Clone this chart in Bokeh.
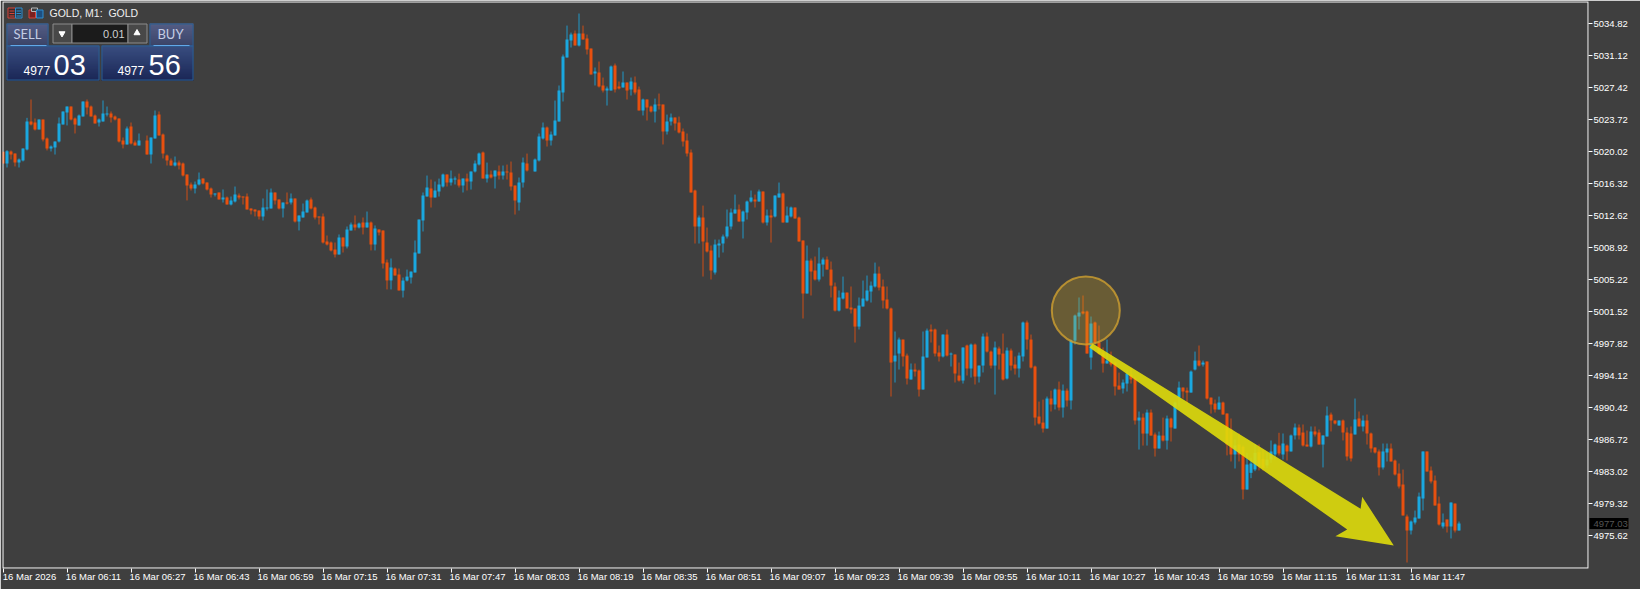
import numpy as np
from bokeh.plotting import figure
from bokeh.models import ColumnDataSource, FixedTicker, Label, LinearAxis, NumeralTickFormatter
from bokeh.embed import file_html
from bokeh.resources import INLINE

nan = float("nan")

opens = [
5020.01,5018.66,5020.05,5019.82,5018.78,5019.01,5020.28,5023.52,5023.40,5022.60,
5023.75,5021.55,5020.40,5020.51,5021.21,5023.17,5024.56,5025.25,5023.87,5023.06,
5024.10,5025.83,5025.25,5024.21,5023.40,5023.52,5024.33,5024.45,5024.10,5023.87,
5021.32,5020.86,5022.94,5021.09,5020.75,nan,5021.32,5019.70,5021.55,5024.33,
5022.02,5019.59,5019.01,5018.43,5018.78,5018.66,5017.39,5016.24,5015.77,5016.24,
5016.93,5016.47,5015.77,5015.08,5015.31,5014.50,5014.73,5013.92,5014.27,5014.96,
5014.85,5014.85,5013.46,5013.35,5013.23,5012.54,5013.46,5013.46,5015.31,5014.50,
5013.46,5014.15,5014.15,5014.62,5011.96,5012.42,5013.00,5014.50,5013.58,5012.54,
5012.54,5009.65,5009.53,5008.72,5008.14,5010.11,5009.07,5010.92,5011.61,5011.26,
5011.84,5011.26,5011.84,5009.30,5011.03,5010.92,5007.22,5005.14,5006.52,5005.83,
5003.97,5005.13,5005.48,5006.06,5008.25,5012.07,5014.84,5015.77,5014.73,5015.42,
5016.00,5017.39,5016.46,5016.81,5016.81,5016.11,5016.92,5016.58,5017.73,5018.54,
5019.93,5016.92,5017.39,5017.16,5017.73,5017.27,5017.73,5017.62,5016.11,5014.15,
5016.46,5018.66,nan,5017.73,5019.01,5021.55,5022.82,5021.32,5021.90,5023.51,
5026.87,5030.91,5032.88,5033.69,5032.30,5033.69,5033.11,5031.95,5029.06,5029.18,
5027.68,5027.10,5027.10,5029.99,5027.56,5027.45,5028.02,5027.21,5028.02,5027.21,
5024.79,5026.06,5025.25,5024.67,5025.48,5025.48,5022.36,5023.51,5023.98,5023.40,
5022.36,5021.32,5019.93,5015.54,5011.37,5012.42,5009.52,5008.60,5006.06,5009.18,
5009.41,5010.22,5011.37,5012.88,5013.34,5011.95,5012.99,5014.26,5014.50,5014.26,
5015.42,5011.84,5012.65,5012.53,5014.73,5015.19,5011.84,5012.53,5013.57,5012.42,
5009.76,5003.63,5007.44,5006.29,5005.25,5006.98,5007.56,5006.40,5004.44,5001.66,
5003.05,5003.74,5002.01,5001.90,4999.81,5002.13,5002.82,5003.86,5004.44,5005.94,
5004.44,5002.94,5001.90,4995.77,4996.69,4998.31,4996.46,4993.69,4994.84,4994.73,
4992.53,4996.23,4999.47,4999.47,4996.81,4996.35,4998.89,4996.58,4996.58,4994.15,
4993.57,4997.62,4994.96,4997.73,4994.03,4995.30,4998.66,4996.92,4995.30,4997.27,
4996.69,4993.80,4997.04,4995.42,4994.96,4996.35,5000.28,4998.31,4995.19,4989.41,
4988.71,4988.02,4991.49,4990.80,4992.53,4990.45,4992.41,4991.26,
4998.19,5000.97,5001.55,5001.55,
4996.23,5000.28,4997.96,4996.81,4995.54,4995.77,4995.65,4992.99,
4992.65,4993.22,4994.26,4993.80,4988.95,4989.29,4987.44,4989.87,4987.33,4985.71,
4987.21,4986.63,4989.18,4988.02,4991.60,4992.76,4992.41,4992.18,4994.84,4995.88,
4995.42,4995.77,4991.60,4990.91,4990.22,4991.03,4989.76,4987.91,4985.02,4986.18,
4985.91,4980.97,4982.90,4983.29,4985.29,4984.52,4983.75,4984.44,4985.02,4986.06,
4985.02,4986.06,4985.37,4987.22,4988.14,4987.56,4986.17,4985.94,4987.68,4987.56,
4986.17,4987.10,4989.64,4988.95,4988.37,4988.95,4987.56,4987.45,4987.33,4989.18,
4988.26,4988.95,4987.45,4985.83,4985.37,4983.52,4985.25,4985.71,4984.32,4982.82,
4981.55,4977.85,4976.23,4977.16,4977.62,4979.93,4985.37,4983.17,4982.01,4979.35,
4976.69,4977.50,4976.69,4979.35,4976.23]

highs = [
5020.01,5020.21,5020.17,5019.82,5019.24,5020.40,5023.94,5026.06,5023.87,5023.75,
5023.75,5021.67,5020.75,5021.21,5023.98,5024.68,5025.25,5025.25,5023.98,5024.33,
5025.83,5026.06,5025.37,5024.33,5023.87,5025.95,5025.25,5024.68,5024.21,5023.87,
5021.67,5022.94,5023.40,5021.32,5022.13,nan,5021.90,5021.67,5024.79,5024.68,
5022.13,5019.70,5019.24,5019.47,5019.01,5018.78,5017.39,5016.47,5016.58,5017.62,
5016.93,5016.47,5015.89,5015.20,5015.31,5015.66,5014.85,5014.85,5016.00,5015.20,
5014.85,5015.20,5013.46,5013.35,5013.23,5014.62,5015.66,5015.77,5015.31,5014.50,
5014.15,5015.31,5015.20,5014.62,5012.65,5014.04,5014.50,5014.73,5013.69,5012.54,
5012.88,5010.34,5009.65,5009.53,5010.46,5010.11,5011.38,5011.84,5012.65,5011.84,
5012.42,5013.11,5011.96,5011.50,5011.03,5010.92,5007.56,5007.68,5006.64,5006.52,
5005.48,5006.40,5006.17,5009.76,5012.18,5015.31,5017.27,5016.81,5016.58,5016.92,
5017.50,5017.39,5017.85,5017.16,5017.50,5016.92,5017.50,5017.73,5019.01,5019.93,
5020.05,5018.77,5017.85,5017.85,5018.43,5018.43,5018.54,5018.89,5016.11,5017.04,
5019.35,5019.81,nan,5019.24,5022.13,5023.40,5022.94,5022.36,5025.94,5027.68,
5031.26,5034.61,5033.80,5034.04,5036.00,5034.61,5033.57,5031.95,5029.76,5030.45,
5028.60,5027.56,5029.99,5030.22,5028.14,5029.30,5028.02,5028.60,5028.72,5027.56,
5026.17,5026.06,5025.36,5026.17,5026.75,5025.48,5024.32,5024.44,5023.98,5024.09,
5022.71,5022.13,5020.28,5015.65,5012.65,5013.80,5011.26,5009.18,5009.87,5009.87,
5010.45,5013.34,5013.46,5015.07,5013.92,5013.22,5014.38,5015.54,5015.07,5015.65,
5015.42,5013.34,5013.34,5014.96,5016.46,5015.31,5013.69,5013.69,5013.57,5012.53,
5009.76,5009.18,5007.68,5007.91,5008.95,5007.79,5007.91,5007.33,5004.90,5003.98,
5005.59,5003.74,5004.44,5001.90,5003.17,5005.13,5005.71,5005.02,5007.21,5006.75,
5005.25,5004.44,5002.01,4999.24,4998.54,4998.31,4996.69,4995.54,4995.54,4994.84,
4999.24,4999.58,5000.05,4999.58,4997.62,4998.89,4999.47,4996.81,4996.58,4995.65,
4997.39,4997.73,4997.85,4997.85,4995.30,4999.00,4999.12,4997.04,4998.08,4997.50,
4999.00,4997.39,4997.27,4996.35,4996.81,5000.39,5000.51,4998.89,4995.30,4991.14,
4991.37,4991.72,4992.41,4992.65,4993.45,4993.11,4992.65,4998.31,
5001.20,5003.17,5003.40,5001.66,
5000.97,5000.39,4999.93,4997.39,4998.31,4996.92,4995.77,4994.49,
4993.69,4994.73,4995.07,4994.03,4989.99,4989.75,4990.22,4990.22,4987.56,4987.67,
4989.29,4989.52,4989.29,4991.14,4993.45,4992.76,4992.76,4994.73,4996.92,4997.62,
4995.88,4995.77,4991.60,4991.37,4991.72,4991.14,4989.76,4989.18,4986.76,4987.45,
4986.06,4985.21,4984.64,4986.18,4986.18,4985.60,4985.21,4986.64,4986.29,4987.53,
4987.45,4986.17,4987.33,4988.60,4988.49,4988.49,4987.79,4988.26,4988.26,4987.91,
4987.22,4990.57,4989.87,4988.95,4988.95,4989.07,4988.14,4988.26,4991.49,4989.99,
4989.53,4989.64,4987.56,4985.83,4985.60,4986.29,4986.29,4986.29,4984.44,4983.98,
4983.28,4978.08,4977.39,4978.54,4980.62,4985.37,4985.37,4983.63,4982.59,4980.16,
4978.20,4977.50,4979.47,4979.35,4977.27]

lows = [
5018.66,5018.20,5019.13,5018.32,5018.20,5018.90,5020.17,5023.06,5022.48,5022.60,
5021.21,5020.17,5020.05,5019.70,5021.09,5023.17,5023.06,5023.64,5022.13,5023.06,
5024.10,5024.33,5024.10,5023.29,5022.94,5023.52,5024.10,5023.40,5023.64,5021.09,
5020.40,5020.86,5020.86,5020.75,5020.75,nan,5019.70,5018.66,5021.55,5021.90,
5019.24,5018.43,5018.43,5018.32,5017.97,5017.16,5014.39,5015.54,5015.20,5016.12,
5016.24,5015.54,5014.73,5014.85,5014.50,5014.15,5013.92,5013.81,5014.15,5014.50,
5013.92,5013.35,5012.77,5012.54,5012.19,5012.07,5013.23,5013.46,5013.92,5013.35,
5012.42,5013.92,5013.92,5011.84,5010.92,5012.42,5013.00,5013.35,5012.19,5011.61,
5009.41,5009.18,5008.49,5007.80,5008.14,5008.37,5008.84,5010.92,5010.92,5011.15,
5010.46,5011.26,5008.61,5008.61,5010.34,5006.52,5004.10,5004.10,5005.71,5003.98,
5003.17,5005.02,5004.78,5006.06,5008.25,5010.80,5014.84,5013.57,5014.73,5014.84,
5015.88,5016.00,5016.11,5016.23,5015.88,5015.31,5015.54,5015.65,5017.62,5018.43,
5016.92,5016.46,5016.92,5015.77,5016.81,5016.81,5016.81,5015.54,5012.76,5013.22,
5015.88,5017.73,nan,5017.73,5018.89,5021.43,5020.62,5020.74,5021.90,5023.51,
5025.83,5030.91,5032.07,5032.30,5032.19,5033.00,5031.26,5028.95,5027.68,5027.45,
5026.87,5025.36,5027.10,5026.87,5027.21,5027.45,5026.06,5026.52,5026.64,5024.79,
5024.21,5023.63,5024.55,5023.40,5024.90,5020.86,5022.01,5023.05,5022.47,5022.13,
5020.62,5019.47,5015.31,5009.41,5009.41,5005.59,5008.37,5005.25,5005.82,5007.79,
5008.37,5009.99,5011.03,5012.88,5011.95,5009.99,5012.18,5014.15,5013.57,5014.26,
5011.72,5011.49,5009.52,5012.42,5014.73,5011.84,5011.84,5012.42,5012.30,5009.64,
5000.74,5003.63,5003.40,5005.13,5005.02,5005.59,5006.40,5003.17,5001.55,5001.55,
5002.94,5001.90,5001.32,4997.96,4999.47,5002.13,5002.70,5002.59,5004.32,5003.98,
5001.90,5001.78,4991.72,4993.34,4994.84,4995.19,4993.11,4993.69,4994.03,4991.72,
4992.53,4996.23,4997.96,4996.35,4995.77,4996.23,4996.35,4995.19,4993.34,4993.45,
4993.22,4994.15,4993.92,4993.11,4993.34,4994.50,4996.81,4994.96,4991.95,4994.84,
4993.57,4993.69,4994.73,4994.26,4993.92,4995.77,4997.15,4994.96,4988.37,4988.48,
4987.56,4988.02,4989.99,4990.22,4990.10,4989.29,4990.56,4990.22,
4997.73,4999.47,5001.20,4996.69,
4994.84,4997.73,4996.58,4994.49,4995.54,4995.19,4991.84,4992.53,
4992.07,4992.30,4993.22,4988.48,4985.59,4986.05,4986.05,4987.21,4984.78,4985.71,
4986.52,4985.59,4986.52,4988.02,4990.56,4991.49,4990.91,4992.18,4994.73,4995.19,
4995.19,4991.37,4989.75,4989.87,4990.22,4989.64,4984.91,4984.21,4983.40,4984.21,
4979.82,4980.97,4982.28,4983.09,4983.17,4983.17,4983.48,4984.06,4984.44,4984.91,
4984.44,4984.32,4985.37,4986.75,4986.75,4985.94,4985.94,4985.83,4987.10,4986.17,
4983.52,4987.10,4987.68,4988.49,4988.37,4986.64,4984.32,4984.21,4987.33,4988.26,
4987.68,4986.17,4985.25,4985.13,4982.59,4983.28,4984.21,4984.21,4982.59,4981.09,
4977.97,4972.53,4975.77,4976.93,4977.62,4978.54,4983.05,4981.67,4979.12,4976.81,
4976.46,4976.00,4975.31,4976.00,4976.23]

closes = [
5018.66,5020.09,5019.70,5018.78,5019.13,5020.40,5023.52,5023.17,5022.60,5023.75,
5021.44,5020.40,5020.63,5021.21,5023.29,5024.68,5025.25,5023.75,5023.17,5024.21,
5025.83,5025.14,5024.10,5023.29,5023.75,5024.45,5024.45,5023.98,5023.75,5021.21,
5020.86,5022.71,5020.98,5020.75,5021.32,nan,5019.70,5021.67,5024.21,5021.90,
5019.82,5019.01,5018.43,5018.78,5018.43,5017.28,5016.12,5015.77,5016.24,5016.81,
5016.35,5015.66,5015.08,5015.20,5014.50,5014.73,5013.92,5014.39,5015.08,5014.73,
5014.73,5013.35,5013.23,5013.11,5012.54,5013.58,5013.58,5015.31,5014.39,5013.46,
5014.15,5014.04,5014.62,5011.96,5012.65,5013.11,5014.39,5013.46,5012.42,5012.42,
5009.53,5009.30,5008.61,5008.14,5010.11,5009.07,5011.03,5011.61,5011.26,5011.73,
5011.26,5011.84,5009.30,5011.15,5010.69,5007.10,5005.14,5006.64,5005.71,5003.98,
5005.13,5005.59,5006.17,5008.37,5012.18,5014.96,5015.88,5014.73,5015.54,5016.23,
5017.39,5016.46,5016.92,5016.92,5016.11,5016.92,5016.58,5017.73,5018.66,5019.81,
5016.92,5017.39,5017.04,5017.85,5017.27,5017.73,5017.62,5016.00,5014.38,5016.46,
5018.77,5017.85,nan,5019.12,5021.78,5022.82,5021.32,5022.01,5023.63,5027.10,
5031.03,5033.00,5033.57,5032.30,5033.69,5033.00,5031.84,5028.95,5029.30,5027.56,
5027.10,5027.33,5029.87,5027.21,5027.33,5028.02,5027.10,5028.14,5026.87,5024.79,
5026.06,5025.13,5024.67,5025.48,5025.36,5022.36,5023.51,5023.98,5023.28,5022.24,
5021.20,5019.81,5015.31,5011.37,5012.42,5009.64,5008.48,5006.29,5009.29,5009.41,
5010.22,5011.37,5012.99,5013.34,5011.95,5013.11,5014.26,5014.73,5014.26,5015.42,
5011.84,5012.65,5012.42,5014.96,5015.19,5011.84,5012.65,5013.57,5012.30,5009.64,
5003.63,5007.44,5006.17,5005.25,5007.10,5007.56,5006.40,5004.55,5001.66,5003.17,
5003.74,5001.90,5001.78,4999.81,5002.24,5003.05,5003.98,5004.55,5005.94,5004.32,
5002.82,5001.90,4995.65,4996.46,4998.31,4996.35,4993.80,4994.84,4994.61,4992.53,
4996.35,4999.35,4999.24,4996.69,4996.35,4998.89,4996.46,4996.69,4994.38,4993.57,
4997.39,4994.96,4997.73,4994.03,4995.30,4998.66,4996.92,4995.30,4997.39,4996.58,
4993.69,4997.04,4995.30,4994.96,4996.46,5000.28,4998.31,4995.07,4989.29,4988.60,
4988.02,4991.49,4990.80,4992.53,4990.45,4992.41,4991.26,4998.20,
5001.09,5001.43,5001.32,4996.69,
5000.16,4997.96,4996.69,4995.54,4995.88,4995.42,4992.88,4992.53,
4993.34,4994.38,4993.69,4988.95,4989.29,4987.44,4989.87,4987.21,4985.71,4987.21,
4986.63,4989.18,4988.14,4991.03,4992.76,4992.30,4992.18,4994.61,4995.88,4995.30,
4995.65,4991.49,4990.80,4990.22,4991.03,4989.64,4986.18,4985.02,4986.06,4985.02,
4980.97,4983.86,4983.98,4985.21,4983.67,4983.48,4984.44,4985.37,4986.18,4985.14,
4986.29,4985.37,4987.22,4988.14,4987.22,4986.06,4985.94,4987.68,4987.33,4986.17,
4987.22,4989.53,4988.95,4988.60,4988.95,4987.56,4984.79,4984.56,4989.07,4988.26,
4988.95,4987.45,4985.71,4985.25,4983.52,4985.37,4985.71,4984.21,4982.71,4981.32,
4977.97,4976.23,4977.27,4977.73,4980.16,4985.37,4983.05,4981.90,4979.12,4976.93,
4977.16,4976.69,4979.47,4976.23,4977.03]

price_ticks = [5034.82,5031.12,5027.42,5023.72,5020.02,5016.32,5012.62,5008.92,5005.22,
               5001.52,4997.82,4994.12,4990.42,4986.72,4983.02,4979.32,4975.62]
time_labels = ["16 Mar 2026","16 Mar 06:11","16 Mar 06:27","16 Mar 06:43","16 Mar 06:59","16 Mar 07:15",
               "16 Mar 07:31","16 Mar 07:47","16 Mar 08:03","16 Mar 08:19","16 Mar 08:35","16 Mar 08:51",
               "16 Mar 09:07","16 Mar 09:23","16 Mar 09:39","16 Mar 09:55","16 Mar 10:11","16 Mar 10:27",
               "16 Mar 10:43","16 Mar 10:59","16 Mar 11:15","16 Mar 11:31","16 Mar 11:47"]
bars_per_label = 16
last_price = 4977.03

BG = "#3f3f3f"
BLUE = "#1aa8e0"
ORANGE = "#e8500f"
FONT = "Liberation Sans"

# scale between bars/prices and the picture, for the chrome drawn on top of the chart
def X(px): return (px - 2.5) / 4.0
def Y(row): return 4975.62 + (536.3 - row) * 0.11561

p = figure(width=1640, height=589, frame_width=1586, frame_height=567,
           x_range=(X(2), X(1588)), y_range=(Y(569), Y(2)),
           output_backend="svg", toolbar_location=None, y_axis_location="right",
           min_border_left=2, min_border_top=1, min_border_right=52, min_border_bottom=21,
           background_fill_color=BG, border_fill_color=BG, outline_line_color=None)
p.grid.visible = False

n = len(opens)
o, h, l, c = map(np.array, (opens, highs, lows, closes))
idx = np.arange(n)
ok = ~np.isnan(o)
for mask, col in ((ok & (c >= o), BLUE), (ok & (c < o), ORANGE)):
    src = ColumnDataSource(dict(x=idx[mask], o=o[mask], c=c[mask], h=h[mask], l=l[mask]))
    p.segment("x", "h", "x", "l", source=src, color=col, line_width=1, line_alpha=0.85)
    p.vbar("x", top="o", bottom="c", width=0.75, source=src, fill_color=col, line_color=None)

# circle marker and arrow drawn on the chart
p.scatter([270.7], [5001.67], marker="circle", size=68, fill_color="#d8a81e", fill_alpha=0.28,
          line_color="#cfa030", line_alpha=0.8, line_width=2)
arrow_bars = [272.4, 339.4, 339.8, 347.7, 333.1, 336.05, 271.6]
arrow_prices = [4997.85, 4978.74, 4980.13, 4974.50, 4975.57, 4976.35, 4997.39]
p.patch(arrow_bars, arrow_prices, fill_color="#dfdc0b", fill_alpha=0.9, line_color=None)

# chart frame
fx0, fx1, fy0, fy1 = X(2.5), X(1587.5), Y(568.5), Y(2.5)
p.segment([fx0, fx1, fx0, fx0], [fy0, fy0, fy0, fy1], [fx0, fx1, fx1, fx1], [fy1, fy1, fy0, fy1],
          line_color="white", line_width=1)

# axes
ax = p.yaxis[0]
ax.ticker = FixedTicker(ticks=price_ticks)
ax.formatter = NumeralTickFormatter(format="0.00")
ax.axis_line_color = None
ax.major_tick_line_color = "white"
ax.major_tick_in = 0
ax.major_tick_out = 4
ax.minor_tick_line_color = None
ax.major_label_standoff = 1
ax.major_label_text_color = "white"
ax.major_label_text_font = FONT
ax.major_label_text_font_size = "9.5px"

# last-price tag: a second right axis whose single thick tick is the black box behind its label
tag = LinearAxis(ticker=FixedTicker(ticks=[last_price]), formatter=NumeralTickFormatter(format="0.00"),
                 axis_line_color=None, minor_tick_line_color=None,
                 major_tick_line_color="black", major_tick_line_width=11,
                 major_tick_in=41, major_tick_out=-2, major_label_standoff=-37,
                 major_label_text_color="#555555", major_label_text_font=FONT,
                 major_label_text_font_size="9.5px")
p.add_layout(tag, "right")

# each time label starts at its tick, so the labels sit half a label width to the right of the ticks
label_shift = 6.625
tick_bars = [i * bars_per_label for i in range(len(time_labels))]
label_bars = [t + label_shift for t in tick_bars]
bx = p.xaxis[0]
bx.ticker = FixedTicker(ticks=label_bars, minor_ticks=tick_bars)
bx.major_label_overrides = dict(zip(label_bars, time_labels))
bx.axis_line_color = None
bx.major_tick_line_color = None
bx.major_tick_in = 0
bx.major_tick_out = 0
bx.minor_tick_line_color = "white"
bx.minor_tick_in = 0
bx.minor_tick_out = 4
bx.major_label_standoff = -2
bx.major_label_text_color = "white"
bx.major_label_text_font = FONT
bx.major_label_text_font_size = "9.5px"

# top-left chrome
def box(x0, r0, x1, r1, fill=None, line=None, lw=1):
    p.quad(left=[X(x0)], right=[X(x1)], top=[Y(r0)], bottom=[Y(r1)],
           fill_color=fill, line_color=line, line_width=lw)

def gradient(x0, r0, x1, r1, top, bot, line):
    bands = int(r1 - r0)
    t, b = np.array(top, float), np.array(bot, float)
    for i in range(bands):
        a = t + (b - t) * i / max(bands - 1, 1)
        col = "#%02x%02x%02x" % tuple(int(v) for v in a)
        box(x0, r0 + i, x1, r0 + i + 1, fill=col)
    box(x0 + .5, r0 + .5, x1 - .5, r1 - .5, line=line)

BORDER = "#2a5f90"
gradient(6, 24, 48, 47, (92, 104, 156), (58, 70, 118), BORDER)
gradient(149, 24, 193, 47, (92, 104, 156), (58, 70, 118), BORDER)
gradient(6, 46, 99, 81, (56, 84, 150), (16, 32, 96), BORDER)
gradient(101, 46, 193, 81, (56, 84, 150), (16, 32, 96), BORDER)
box(10, 45.5, 46, 46.5, fill="#62a8e8")
box(153, 45.5, 189, 46.5, fill="#62a8e8")

box(52.5, 24.5, 71.5, 43.5, fill="#484848", line="#8c8c8c")
box(71.5, 24.5, 127.5, 43.5, fill="#1b1b1b", line="#8c8c8c")
box(127.5, 24.5, 146.5, 43.5, fill="#484848", line="#8c8c8c")
p.scatter([X(61.5)], [Y(34)], marker="inverted_triangle", size=6, color="white")
p.scatter([X(136.5)], [Y(33.5)], marker="triangle", size=6, color="white")

box(7.5, 8.5, 15, 18.5, fill="#3a2a2a", line="#d8453a")
box(15, 8.5, 21.5, 18.5, fill="#2a3a4a", line="#2f8fd0")
for r in (11, 13.5, 16):
    box(9, r, 14, r + 1, fill="#d8453a")
    box(16, r, 20.5, r + 1, fill="#2f8fd0")
box(28.5, 10.5, 35, 18.5, fill="#7a2020", line="#d8453a")
box(31, 8.5, 37, 12, fill=BG, line="#b8b8b8")
box(36, 10.5, 42.5, 18.5, fill="#1d4f80", line="#2f8fd0")

def txt(x, r, s, size, color="white", align="left", font=FONT):
    p.add_layout(Label(x=X(x), y=Y(r), text=s, text_color=color, text_font=font,
                       text_font_size=size, text_align=align, text_baseline="middle"))

txt(49, 13.5, "GOLD, M1:\u00a0\u00a0GOLD", "10.5px", "#f0f0f0")
txt(27, 34.5, "SELL", "13px", "#c4cce4", align="center", font="Lato")
txt(170, 34.5, "BUY", "13px", "#c4cce4", align="center", font="Lato")
txt(124, 34, "0.01", "11px", "#d0d0d0", align="right")
txt(23, 71, "4977", "12px")
txt(53, 65.5, "03", "29px")
txt(117, 71, "4977", "12px")
txt(148, 65.5, "56", "29px")

html = file_html(p, INLINE)
html = html.replace("<body>", '<body style="margin:0;background:%s">' % BG, 1)
open("out.html", "w").write(html)
